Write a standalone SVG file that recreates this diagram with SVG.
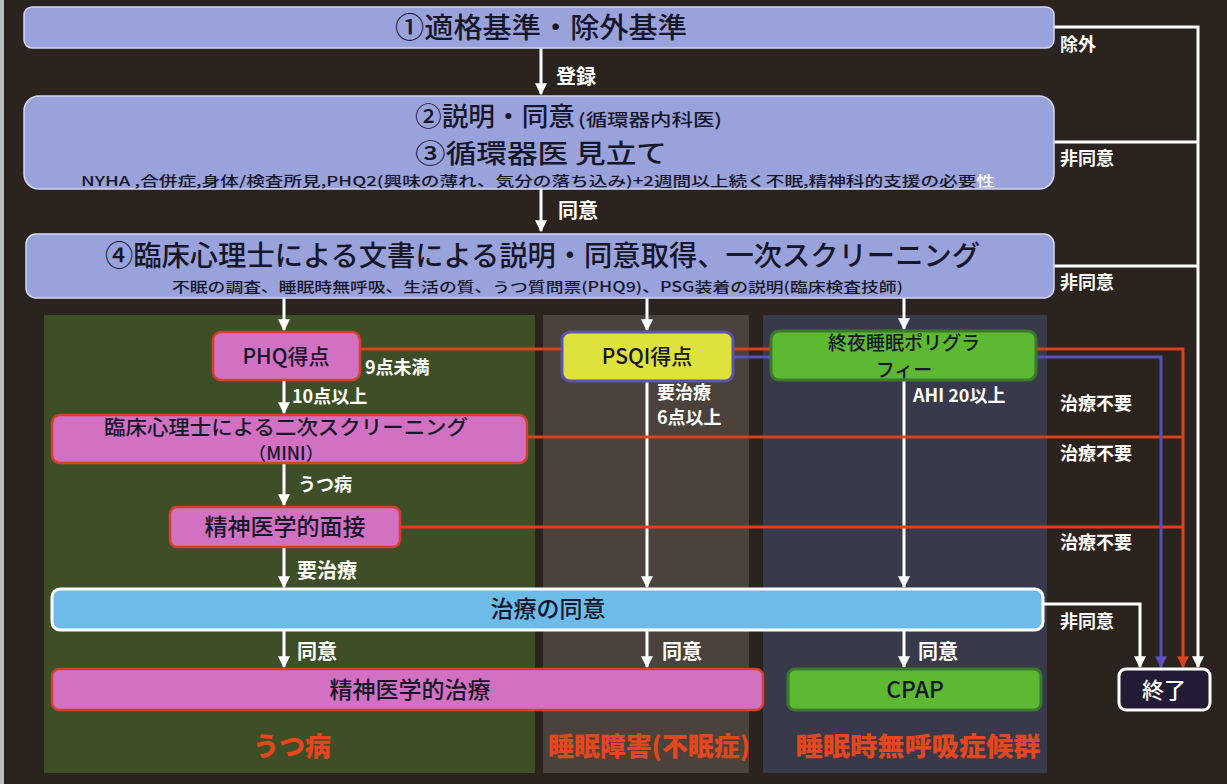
<svg xmlns="http://www.w3.org/2000/svg" width="1227" height="784" viewBox="0 0 1227 784">
<style>
  .t { font-family: "Noto Sans CJK JP", "Noto Sans", sans-serif; font-weight: 500; }
  .dark { fill: #17172a; }
  .lbl { font-family: "Noto Sans CJK JP", "Noto Sans", sans-serif; fill: #ffffff; font-weight: bold; font-size: 18px; }
  .lbl20 { font-family: "Noto Sans CJK JP", "Noto Sans", sans-serif; fill: #ffffff; font-weight: bold; font-size: 20px; }
  .cat { font-family: "Noto Sans CJK JP", "Noto Sans", sans-serif; fill: #e4461e; font-weight: 900; font-size: 26px; }
  .peri { fill: #9aa2dc; stroke: #d4d8f2; stroke-width: 1.5; }
  .pink { fill: #d271c2; stroke: #d6402a; stroke-width: 2.5; }
  .wl { stroke: #ffffff; stroke-width: 3; fill: none; }
  .rl { stroke: #d8421c; stroke-width: 3; fill: none; }
  .bl { stroke: #5a50b8; stroke-width: 3; fill: none; }
</style>
<defs>
  <marker id="aw" viewBox="0 0 10 10" refX="9" refY="5" markerWidth="4" markerHeight="4" orient="auto" markerUnits="strokeWidth">
    <path d="M0,0 L10,5 L0,10 z" fill="#ffffff"/>
  </marker>
  <marker id="ar" viewBox="0 0 10 10" refX="9" refY="5" markerWidth="4" markerHeight="4" orient="auto" markerUnits="strokeWidth">
    <path d="M0,0 L10,5 L0,10 z" fill="#d8421c"/>
  </marker>
  <marker id="ab" viewBox="0 0 10 10" refX="9" refY="5" markerWidth="4" markerHeight="4" orient="auto" markerUnits="strokeWidth">
    <path d="M0,0 L10,5 L0,10 z" fill="#5a50b8"/>
  </marker>
</defs>

<rect x="0" y="0" width="1227" height="784" fill="#2b231e"/>
<rect x="0" y="0" width="4" height="784" fill="#bdbdbd"/>

<g id="columns">
  <rect x="44" y="315" width="491" height="458" fill="#3e4f27"/>
  <rect x="543" y="315" width="206" height="458" fill="#4b423b"/>
  <rect x="763" y="315" width="284" height="458" fill="#38394a"/>
</g>

<g id="connectors">
  <line class="wl" x1="541" y1="48" x2="541" y2="94" marker-end="url(#aw)"/>
  <line class="wl" x1="541" y1="189" x2="541" y2="231" marker-end="url(#aw)"/>
  <line class="wl" x1="284" y1="298" x2="284" y2="330" marker-end="url(#aw)"/>
  <line class="wl" x1="647" y1="298" x2="647" y2="330" marker-end="url(#aw)"/>
  <line class="wl" x1="904" y1="298" x2="904" y2="329" marker-end="url(#aw)"/>
  <line class="wl" x1="284" y1="380" x2="284" y2="413" marker-end="url(#aw)"/>
  <line class="wl" x1="284" y1="463" x2="284" y2="505" marker-end="url(#aw)"/>
  <line class="wl" x1="284" y1="547" x2="284" y2="587" marker-end="url(#aw)"/>
  <line class="wl" x1="647" y1="381" x2="647" y2="587" marker-end="url(#aw)"/>
  <line class="wl" x1="904" y1="380" x2="904" y2="587" marker-end="url(#aw)"/>
  <line class="wl" x1="284" y1="630" x2="284" y2="667" marker-end="url(#aw)"/>
  <line class="wl" x1="647" y1="630" x2="647" y2="667" marker-end="url(#aw)"/>
  <line class="wl" x1="904" y1="630" x2="904" y2="667" marker-end="url(#aw)"/>
  <polyline class="wl" points="1054,27 1198,27 1198,667" marker-end="url(#aw)"/>
  <line class="wl" x1="1054" y1="142" x2="1198" y2="142"/>
  <line class="wl" x1="1054" y1="266" x2="1198" y2="266"/>
  <line class="rl" x1="527" y1="437" x2="1183" y2="437"/>
  <line class="rl" x1="400" y1="527" x2="1183" y2="527"/>
  <polyline class="rl" points="360,349 1183,349 1183,667" marker-end="url(#ar)"/>
  <polyline class="bl" points="733,357 1161,357 1161,667" marker-end="url(#ab)"/>
  <polyline class="wl" points="1043,604 1140,604 1140,667" marker-end="url(#aw)"/>
</g>

<g id="n1">
  <rect class="peri" x="24" y="7" width="1030" height="41" rx="8"/>
  <text class="t dark" x="541" y="38" font-size="28" text-anchor="middle" textLength="292" lengthAdjust="spacingAndGlyphs">①適格基準・除外基準</text>
</g>

<g id="n2">
  <rect class="peri" x="24" y="96" width="1030" height="93" rx="15"/>
  <text class="t dark" x="415" y="126" font-size="26"><tspan textLength="160" lengthAdjust="spacingAndGlyphs">②説明・同意</tspan><tspan font-size="17" dx="3" textLength="144" lengthAdjust="spacingAndGlyphs">(循環器内科医)</tspan></text>
  <text class="t dark" x="415" y="163" font-size="26" textLength="252" lengthAdjust="spacingAndGlyphs">③循環器医 見立て</text>
  <text class="t dark" x="81" y="186" font-size="13.5" textLength="914" lengthAdjust="spacingAndGlyphs">NYHA ,合併症,身体/検査所見,PHQ2(興味の薄れ、気分の落ち込み)+2週間以上続く不眠,精神科的支援の必要<tspan fill="#ffffff">性</tspan></text>
</g>

<g id="n3">
  <rect class="peri" x="26" y="234" width="1028" height="64" rx="10"/>
  <text class="t dark" x="105" y="266" font-size="28" textLength="875" lengthAdjust="spacingAndGlyphs">④臨床心理士による文書による説明・同意取得、一次スクリーニング</text>
  <text class="t dark" x="172" y="292" font-size="14" textLength="731" lengthAdjust="spacingAndGlyphs">不眠の調査、睡眠時無呼吸、生活の質、うつ質問票(PHQ9)、PSG装着の説明(臨床検査技師)</text>
</g>

<g id="phq">
  <rect class="pink" x="213" y="332" width="147" height="48" rx="8"/>
  <text class="t dark" x="286" y="364" font-size="21" font-weight="bold" text-anchor="middle">PHQ得点</text>
</g>

<g id="psqi">
  <rect x="562" y="332" width="171" height="49" rx="8" fill="#dee23c" stroke="#5a55aa" stroke-width="3"/>
  <text class="t dark" x="647" y="364" font-size="21" font-weight="bold" text-anchor="middle">PSQI得点</text>
</g>

<g id="psg">
  <rect x="771" y="331" width="265" height="49" rx="8" fill="#5db832" stroke="#3b7a2a" stroke-width="3"/>
  <text class="t dark" x="904" y="350" font-size="19" text-anchor="middle">終夜睡眠ポリグラ</text>
  <text class="t dark" x="904" y="377" font-size="19" text-anchor="middle">フィー</text>
</g>

<g id="mini">
  <rect class="pink" x="52" y="415" width="475" height="48" rx="8"/>
  <text class="t dark" x="286" y="435" font-size="20" text-anchor="middle" textLength="364" lengthAdjust="spacingAndGlyphs">臨床心理士による二次スクリーニング</text>
  <text class="t dark" x="286" y="460" font-size="18" text-anchor="middle">（MINI）</text>
</g>

<g id="mensetsu">
  <rect class="pink" x="170" y="507" width="230" height="40" rx="7"/>
  <text class="t dark" x="285" y="535" font-size="23" text-anchor="middle">精神医学的面接</text>
</g>

<g id="consent">
  <rect x="52" y="589" width="991" height="41" rx="8" fill="#6cbbe8" stroke="#ffffff" stroke-width="3"/>
  <text class="t dark" x="548" y="617" font-size="23" text-anchor="middle">治療の同意</text>
</g>

<g id="treat">
  <rect class="pink" x="52" y="669" width="711" height="41" rx="7"/>
  <text class="t dark" x="410" y="698" font-size="23" text-anchor="middle">精神医学的治療</text>
</g>

<g id="cpap">
  <rect x="788" y="669" width="253" height="41" rx="7" fill="#5db832" stroke="#3b7a2a" stroke-width="3"/>
  <text class="t dark" x="915" y="698" font-size="23" text-anchor="middle">CPAP</text>
</g>

<g id="end">
  <rect x="1119" y="669" width="91" height="41" rx="7" fill="#231a36" stroke="#ffffff" stroke-width="3"/>
  <text class="t" x="1164" y="698" font-size="22" fill="#ffffff" text-anchor="middle">終了</text>
</g>

<g id="labels">
  <text class="lbl20" x="556" y="84">登録</text>
  <text class="lbl20" x="558" y="218">同意</text>
  <text class="lbl" x="365" y="374">9点未満</text>
  <text class="lbl" x="292" y="403">10点以上</text>
  <text class="lbl" x="298" y="491">うつ病</text>
  <text class="lbl20" x="297" y="578">要治療</text>
  <text class="lbl" x="657" y="399">要治療</text>
  <text class="lbl" x="657" y="424">6点以上</text>
  <text class="lbl" x="913" y="402">AHI 20以上</text>
  <text class="lbl20" x="297" y="659">同意</text>
  <text class="lbl20" x="662" y="659">同意</text>
  <text class="lbl20" x="918" y="659">同意</text>
  <text class="lbl" x="1060" y="51">除外</text>
  <text class="lbl" x="1060" y="165">非同意</text>
  <text class="lbl" x="1060" y="289">非同意</text>
  <text class="lbl" x="1060" y="410">治療不要</text>
  <text class="lbl" x="1060" y="460">治療不要</text>
  <text class="lbl" x="1060" y="549">治療不要</text>
  <text class="lbl" x="1060" y="628">非同意</text>
</g>

<g id="categories">
  <text class="cat" x="292" y="756" text-anchor="middle">うつ病</text>
  <text class="cat" x="649" y="756" text-anchor="middle" textLength="202" lengthAdjust="spacingAndGlyphs">睡眠障害(不眠症)</text>
  <text class="cat" x="918" y="756" text-anchor="middle" textLength="245" lengthAdjust="spacingAndGlyphs">睡眠時無呼吸症候群</text>
</g>
</svg>
